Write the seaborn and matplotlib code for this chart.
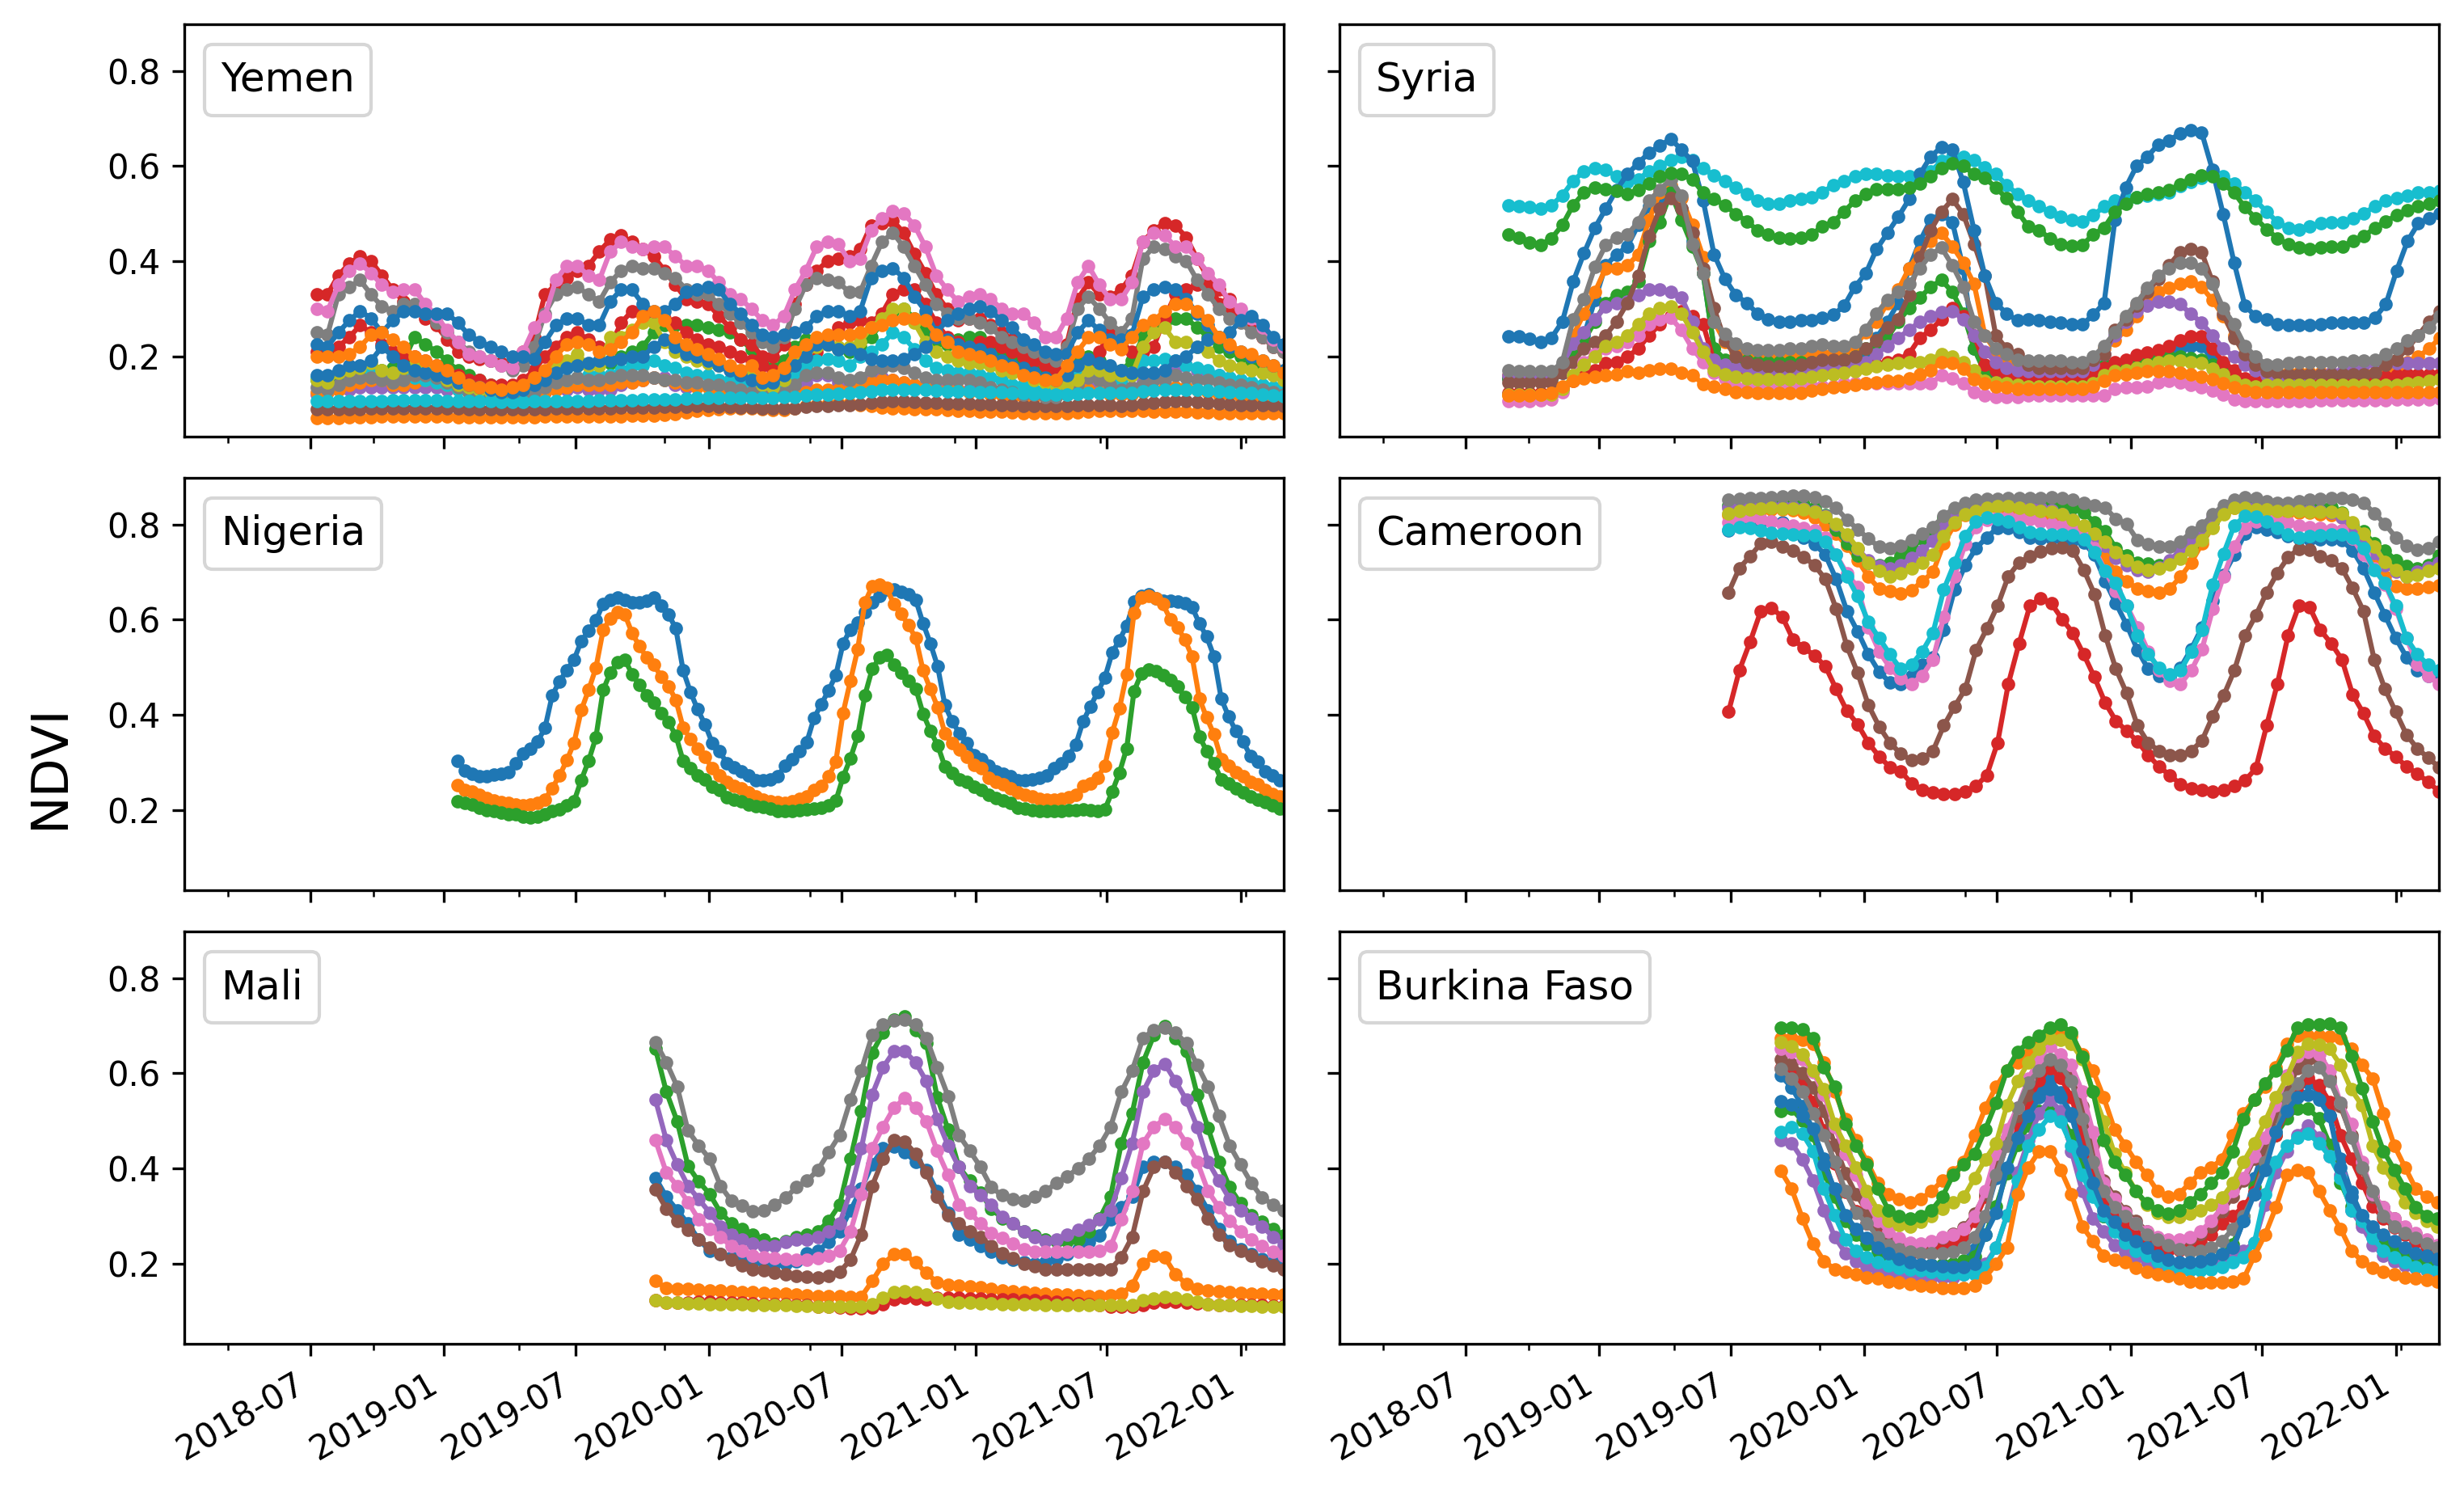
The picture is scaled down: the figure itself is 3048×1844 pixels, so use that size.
import numpy as np
import pandas as pd
import matplotlib
matplotlib.use("Agg")
import matplotlib.pyplot as plt
import matplotlib.dates as mdates
from matplotlib.lines import Line2D
from matplotlib.ticker import FixedLocator
import seaborn as sns

# NDVI values in thousandths
yemen_orange_low = [70,70,70,71,72,72,73,73,73,73,73,73,73,72,72,72,71,71,71,72,72,73,73,73,73,73,73,74,74,75,75,76,77,79,82,85,87,88,90,91,90,88,87,87,90,95,98,99,100,100,98,96,93,91,90,89,88,88,87,86,85,84,84,83,82,81,80,80,80,81,82,84,85,85,85,85,85,84,84,83,83,82,82,81,81,81,80,80,80,80]
yemen_purple = [120,125,130,130,135,135,135,135,135,135,135,135,130,130,125,120,120,120,115,120,120,125,130,130,135,130,130,130,140,145,150,155,155,140,135,140,140,130,130,125,125,120,120,125,130,145,160,160,145,140,145,155,155,150,145,140,140,140,135,130,130,130,125,125,120,120,115,120,125,130,135,140,130,125,120,130,150,155,160,170,180,170,165,160,150,145,140,135,130,125]
yemen_orange_mid = [125,125,130,140,145,150,150,140,140,145,150,145,140,130,125,120,115,115,115,120,120,125,130,135,140,140,140,140,145,145,150,155,150,145,140,135,135,130,125,120,120,115,115,115,120,125,130,130,130,130,135,145,150,150,145,140,135,130,130,130,125,125,120,120,115,115,115,115,115,120,125,130,125,120,120,120,125,130,135,135,135,130,125,120,120,115,115,110,110,110]
yemen_brown = [88,88,88,89,89,90,90,90,91,91,91,91,90,90,89,89,89,88,88,89,89,89,90,90,90,90,90,91,92,92,93,93,94,94,94,95,95,94,94,93,92,91,90,90,91,94,96,96,97,98,99,102,104,105,105,104,103,102,101,100,100,99,99,98,97,96,95,95,95,96,97,98,98,97,96,97,101,103,104,105,105,104,102,100,99,98,98,97,97,96]
yemen_green = [150,150,150,155,160,165,170,175,190,240,225,210,190,170,160,150,140,135,130,130,140,155,170,185,180,180,180,185,200,210,220,250,265,265,265,265,260,255,250,235,215,185,175,190,220,235,235,225,215,210,220,240,270,295,300,280,250,230,225,235,240,240,225,210,190,180,170,160,155,170,190,200,190,170,170,190,240,260,270,280,280,260,240,220,210,200,190,180,170,160]
yemen_red_low = [210,210,220,240,265,250,225,210,200,200,190,180,170,160,150,150,140,140,140,150,170,200,220,240,250,235,220,220,270,295,300,290,280,270,250,235,225,220,210,200,190,180,170,165,165,180,210,230,260,270,275,270,290,330,340,340,310,270,240,230,220,230,230,220,210,200,190,180,170,165,160,170,210,250,230,210,210,220,280,330,340,350,350,340,320,290,260,240,230,220]
yemen_red_high = [330,330,370,395,410,400,370,340,315,300,280,265,235,210,200,195,190,185,180,210,240,330,350,365,380,390,420,445,455,440,425,410,380,350,320,315,310,285,260,235,225,200,200,225,310,350,380,400,405,410,425,475,480,485,460,415,375,330,300,275,280,280,265,250,235,225,205,195,190,225,320,355,330,325,340,370,440,465,480,475,450,405,365,310,290,275,260,240,220,210]
yemen_gray_high = [250,245,330,345,360,330,305,295,310,310,290,270,250,230,210,200,190,180,170,180,220,290,330,340,345,330,315,355,380,390,385,385,375,365,340,330,330,310,290,270,250,230,220,240,300,350,365,360,355,335,335,390,440,460,430,390,350,310,290,280,280,270,260,240,230,220,210,200,190,220,300,325,300,270,250,280,405,430,425,410,400,360,330,300,280,270,250,240,220,210]
yemen_cyan_mid = [155,155,165,170,175,170,165,160,160,155,150,145,140,130,125,120,120,120,120,120,130,140,150,150,155,160,160,160,170,180,180,190,180,175,165,160,160,150,150,140,135,130,130,140,155,180,190,195,190,180,200,210,225,250,240,215,190,175,170,165,165,160,155,150,140,140,130,130,130,140,160,170,160,150,150,160,190,190,195,190,180,175,170,160,155,150,145,140,135,130]
yemen_gray_low = [135,130,140,150,155,155,150,145,150,160,160,155,145,135,125,120,115,115,115,120,125,135,145,150,155,150,150,155,160,160,160,155,150,150,145,145,140,140,135,130,125,120,120,125,140,160,165,165,155,150,155,170,175,180,175,165,155,150,150,150,150,145,135,130,125,120,120,115,115,120,140,155,150,140,130,135,140,150,150,160,155,150,150,145,140,140,135,130,125,120]
yemen_olive = [150,145,165,170,175,185,170,165,175,180,170,160,150,140,135,130,125,125,125,130,150,165,180,190,205,180,180,240,240,255,270,270,230,210,200,190,185,180,175,170,160,140,135,150,190,210,220,225,220,220,230,260,280,300,300,270,230,210,200,190,185,185,180,170,165,160,150,145,140,140,150,170,170,160,160,160,220,250,260,230,230,220,210,190,180,175,170,165,160,150]
yemen_pink = [300,295,350,380,395,375,350,335,340,340,310,285,255,230,205,200,190,180,175,210,260,285,360,390,390,370,360,420,440,430,425,430,430,410,390,390,380,355,330,320,300,275,265,285,340,380,430,440,435,400,405,465,490,505,500,475,430,370,340,315,325,330,320,300,290,290,270,240,240,280,355,390,350,320,320,355,440,460,455,430,430,405,375,350,315,300,280,260,235,220]
yemen_cyan_low = [105,105,105,105,106,106,106,107,107,107,107,107,106,106,105,105,105,104,104,104,105,105,106,106,106,106,107,107,108,108,109,110,110,110,111,112,112,112,112,112,112,112,113,114,115,118,119,120,121,122,124,127,129,130,130,130,129,128,127,126,126,125,125,124,123,122,121,120,120,120,121,122,122,122,122,123,126,128,129,130,130,129,128,126,125,123,122,120,118,116]
yemen_blue_low = [160,160,170,180,180,190,220,200,180,170,165,160,155,145,140,135,130,125,125,130,140,150,165,175,180,185,190,190,195,200,200,220,235,220,205,200,190,180,170,160,150,145,145,160,180,200,225,225,215,215,205,195,190,190,195,205,220,240,235,225,220,215,205,190,180,175,165,155,150,160,180,195,185,180,170,165,165,165,170,190,200,220,235,240,220,210,200,190,180,170]
yemen_blue_high = [225,220,250,275,295,280,250,275,295,295,290,290,290,270,245,230,220,210,200,200,195,230,265,280,280,265,265,315,340,340,310,295,295,310,335,340,345,340,310,290,265,245,240,245,250,260,285,295,295,285,295,365,380,385,365,325,295,250,275,290,300,305,295,275,260,235,225,210,205,205,250,275,255,235,235,245,325,340,345,340,320,290,265,240,250,275,285,265,240,225]
yemen_orange_top = [200,200,200,205,220,245,250,235,220,200,190,180,170,155,140,135,135,130,135,140,155,170,200,225,230,225,210,215,230,250,285,295,275,240,225,215,205,195,180,170,180,155,160,175,210,225,240,245,245,245,250,260,265,275,280,280,275,245,230,210,205,200,190,180,175,160,155,150,150,180,210,240,240,225,215,240,265,275,295,310,310,295,275,240,225,210,205,190,180,165]

syria_blue2 = [154,154,154,154,154,165,188,244,318,391,414,431,476,515,532,550,510,442,374,216,182,165,162,160,160,160,160,160,160,160,165,171,182,199,239,273,312,385,442,487,499,482,385,216,171,160,154,154,154,154,154,154,154,154,165,182,182,188,193,199,205,210,216,222,222,193,165,154,148,148,148,150,150,152,152,154,154,154,154,154,154,154,154,154,154,154,154]
syria_orange = [160,160,160,160,160,171,244,290,335,385,385,391,414,487,544,560,532,476,408,273,230,210,208,202,202,202,202,202,202,205,208,210,222,250,273,312,340,385,419,442,459,431,397,352,244,210,188,176,171,171,171,171,171,171,188,216,233,255,284,318,335,343,352,357,346,318,284,244,199,176,165,162,165,165,165,165,165,165,165,165,165,171,176,188,199,216,239]
syria_green2 = [154,154,154,154,154,182,199,233,273,312,329,335,357,442,482,544,487,431,374,216,193,190,190,188,188,188,188,188,188,190,190,193,199,216,222,239,273,301,323,346,360,335,290,216,165,143,137,150,154,154,154,154,154,154,160,182,182,188,193,199,199,199,199,196,193,182,165,154,148,148,148,148,148,148,148,148,148,148,148,148,148,150,150,150,150,154,154]
syria_red = [123,123,123,123,123,131,148,160,171,185,188,199,216,244,267,284,295,284,267,188,165,160,157,157,157,157,157,160,162,162,165,168,171,176,182,188,193,205,239,255,278,301,284,244,182,171,160,154,154,151,151,151,154,157,162,176,188,193,202,208,213,222,233,241,241,216,188,171,154,148,145,145,145,145,145,145,145,145,145,148,154,157,160,162,162,162,162]
syria_purple = [160,160,160,160,160,182,227,250,278,304,312,315,329,340,340,335,323,273,216,193,182,176,173,171,168,168,168,171,173,176,182,182,182,188,205,222,239,255,273,284,292,295,278,244,210,188,176,171,168,168,168,168,168,168,182,205,244,273,295,306,315,315,309,290,270,244,216,199,182,171,160,154,154,157,160,162,165,168,176,182,185,185,185,185,185,185,185]
syria_brown = [145,145,145,145,145,165,188,216,230,244,273,312,369,453,510,532,510,459,385,301,233,199,188,182,179,179,179,182,188,193,193,193,199,216,233,261,278,329,408,465,504,530,499,436,369,244,216,205,182,176,176,176,176,176,193,205,255,278,306,335,363,391,419,425,419,357,290,239,205,182,168,165,162,162,162,162,162,162,162,162,165,182,193,216,244,273,295]
syria_pink = [106,106,106,108,109,125,160,188,205,216,222,230,244,267,278,281,255,216,188,165,154,137,137,137,137,137,137,137,137,137,137,143,143,143,143,143,143,143,143,143,160,154,143,125,117,114,114,114,117,117,117,117,117,117,117,117,131,134,134,137,145,148,145,140,134,128,120,109,106,106,106,106,106,106,106,107,107,107,108,108,108,108,109,109,109,110,111]
syria_gray = [171,168,168,168,168,188,278,320,388,434,450,456,482,527,550,572,538,436,374,273,247,227,216,213,213,213,216,216,222,225,222,222,230,256,290,318,335,352,385,414,428,391,346,273,244,216,205,193,190,190,190,190,188,188,199,222,250,284,312,343,369,385,397,397,385,352,301,267,222,199,182,182,185,188,188,188,188,188,190,190,193,205,216,233,244,261,284]
syria_olive = [120,120,120,120,120,131,160,182,199,222,230,244,267,290,301,304,290,250,210,171,162,157,154,151,151,151,151,154,157,160,162,165,168,173,179,182,185,188,188,193,205,199,188,171,148,145,143,140,137,137,137,137,137,137,143,160,168,171,176,182,188,190,190,188,185,173,162,148,140,137,140,140,140,140,140,140,140,140,140,140,140,140,140,143,145,148,151]
syria_cyan = [518,515,513,510,518,538,569,589,595,592,578,566,572,589,600,612,620,612,595,580,569,555,541,527,520,520,527,530,535,544,560,569,578,583,583,580,578,578,578,589,610,620,620,612,597,583,560,541,527,515,504,493,486,484,496,515,527,532,535,538,541,544,558,566,575,583,578,563,544,527,504,482,470,467,473,479,482,482,490,501,515,527,532,538,544,544,547]
syria_blue = [241,241,236,230,239,273,357,417,470,510,550,583,606,628,643,657,634,610,527,414,363,329,312,290,278,273,273,275,275,281,287,306,346,374,425,459,493,530,583,620,640,634,566,465,369,312,290,275,278,275,273,270,267,267,287,312,487,555,600,620,645,654,668,676,671,592,498,397,306,284,278,267,266,266,266,267,270,270,270,270,281,309,380,442,479,490,501]
syria_orange_low = [117,117,117,119,123,137,148,154,157,160,162,168,165,171,174,174,165,160,142,137,131,125,125,123,123,123,123,123,128,131,134,137,140,143,145,148,148,154,162,171,188,185,174,151,143,137,134,131,131,131,131,131,131,131,137,148,160,162,165,168,168,168,165,162,157,151,143,134,128,125,125,125,125,125,125,125,125,125,125,125,125,125,125,125,125,125,125]
syria_green = [456,450,439,434,448,476,518,544,555,552,547,541,550,563,578,586,583,572,544,530,518,499,484,465,456,450,448,450,456,473,482,504,527,541,552,552,552,555,563,578,595,606,600,583,575,555,532,504,473,465,448,436,432,434,456,470,504,521,535,541,544,550,561,572,580,578,563,544,513,490,467,448,436,428,425,428,431,431,442,453,470,484,496,507,515,521,527]

nigeria_blue = [303,283,276,270,271,274,275,279,298,318,329,344,372,441,470,494,516,555,576,598,633,641,647,641,636,637,640,647,629,611,581,493,448,411,380,341,324,298,290,281,273,263,262,264,271,293,307,323,342,393,422,451,483,550,579,593,616,637,649,663,663,659,654,641,592,550,502,420,386,361,341,315,307,293,281,276,270,263,263,264,267,273,287,298,314,337,386,417,447,478,530,557,587,638,650,654,645,640,640,638,635,626,592,564,523,434,397,366,344,314,301,281,273,262,258]
nigeria_orange = [252,242,239,231,225,220,216,214,211,209,211,215,222,246,272,304,341,410,452,498,578,603,615,610,571,544,520,505,479,460,431,373,349,329,312,287,273,259,251,245,236,228,222,218,216,215,218,223,229,242,251,270,301,404,471,537,636,670,674,666,632,612,588,561,493,454,416,361,341,326,312,295,287,267,259,253,245,236,232,228,223,222,222,223,227,232,250,256,268,293,362,413,485,614,647,650,645,632,601,584,558,522,434,394,359,307,293,279,270,259,253,242,233,228,224]
nigeria_green = [218,214,212,205,199,198,194,191,191,185,184,185,190,197,201,210,218,263,303,352,452,489,511,515,485,462,441,425,403,384,356,303,287,273,264,248,242,227,222,218,211,207,206,202,198,197,197,199,201,202,205,210,219,269,308,355,441,496,520,526,505,488,471,455,402,366,336,291,278,264,259,248,242,231,225,219,214,205,202,199,198,197,197,198,199,199,201,199,198,201,238,278,329,449,486,495,492,483,473,459,438,416,354,324,298,264,256,245,237,228,222,216,210,202,199]

cameroon_blue = [787,801,807,807,807,804,787,773,759,736,685,618,575,527,490,468,465,482,505,521,578,663,714,750,773,793,793,784,773,770,770,769,767,762,736,680,634,589,536,496,482,480,499,538,584,640,694,736,781,795,790,784,776,771,769,769,769,767,745,708,657,609,561,521,493,482,476]
cameroon_orange = [820,825,828,830,832,832,830,825,815,800,780,755,725,690,665,660,655,662,680,700,760,800,820,830,835,835,832,830,828,822,815,805,790,775,755,730,700,680,665,660,657,665,690,720,760,795,825,835,832,830,828,826,825,825,825,822,820,815,790,750,720,690,670,665,665,668,672]
cameroon_green = [840,842,843,844,845,845,845,842,835,820,790,760,735,720,715,720,735,750,770,790,815,830,838,842,843,843,845,847,847,845,842,840,835,825,805,785,750,735,720,718,715,722,735,755,780,805,828,840,843,843,842,840,840,840,840,838,836,825,800,785,760,745,725,712,708,715,735]
cameroon_red = [406,493,553,618,624,606,558,541,524,502,454,408,380,341,312,290,281,256,242,236,233,234,239,250,273,341,465,550,629,645,634,601,572,527,479,425,387,366,344,315,291,273,254,245,241,239,242,250,262,287,377,465,567,629,626,578,550,516,442,403,355,329,312,291,276,259,239]
cameroon_purple = [835,838,838,838,838,838,836,834,828,818,800,778,748,725,712,708,715,730,745,765,800,820,832,838,840,840,838,838,836,835,830,822,810,795,775,755,730,715,705,700,710,725,745,765,790,815,830,838,838,838,836,833,832,830,830,828,825,815,790,765,740,715,700,690,700,710,720]
cameroon_brown = [657,708,733,760,763,754,745,732,714,685,623,544,488,420,375,341,318,304,308,324,377,417,454,536,581,629,691,720,733,743,750,752,745,705,654,567,496,445,377,341,324,315,315,324,346,397,440,493,567,609,657,698,731,749,746,733,724,708,666,618,516,454,406,358,329,310,290]
cameroon_pink = [804,812,815,812,807,801,797,792,787,773,736,697,668,584,533,499,476,465,482,516,606,691,759,795,810,815,816,815,812,807,801,797,793,779,750,702,660,629,584,533,493,471,465,493,538,623,691,753,793,807,812,810,804,797,795,793,790,787,770,736,708,674,623,561,505,482,465]
cameroon_gray = [852,853,855,856,858,859,860,860,858,849,835,810,790,770,753,750,756,767,781,795,818,835,846,852,854,854,855,855,855,856,858,855,852,846,841,835,812,801,767,759,753,753,764,784,798,821,841,852,858,855,849,846,846,849,852,854,855,855,852,846,824,801,773,756,747,750,764]
cameroon_olive = [824,828,831,833,835,834,833,832,827,816,801,779,750,719,702,691,697,708,719,736,776,804,821,829,835,838,838,835,832,829,827,821,810,798,781,764,742,725,711,705,708,716,728,745,767,793,821,835,835,832,831,829,829,828,827,827,827,824,804,781,753,722,705,691,694,702,708]
cameroon_cyan = [790,794,793,788,782,780,779,777,777,764,736,691,649,595,561,527,496,505,533,572,663,719,776,807,815,811,807,795,784,780,779,779,777,769,742,702,677,629,567,527,499,485,493,533,578,674,739,798,818,816,807,793,779,773,775,777,779,779,773,750,705,677,629,561,527,505,493]

mali_blue = [380,340,312,284,250,227,219,213,208,205,202,199,199,205,222,227,245,267,312,357,408,442,445,434,414,397,352,307,261,250,236,225,213,208,202,199,202,210,219,230,245,259,292,318,340,403,414,414,403,386,352,312,273,247,230,219,210,202,194]
mali_orange = [163,148,147,146,145,143,143,141,140,139,138,137,136,135,133,132,131,131,130,130,163,199,219,219,202,180,160,155,153,151,150,147,144,142,140,138,136,135,134,133,131,131,133,136,154,199,216,213,177,157,147,144,142,140,138,137,136,135,135]
mali_green = [651,561,499,405,372,346,307,284,273,261,250,242,247,256,261,267,290,324,420,521,643,685,713,719,691,663,550,482,403,374,349,315,295,284,267,259,250,247,247,250,267,295,340,453,516,623,680,699,674,646,555,485,414,360,326,301,287,273,259]
mali_red = [122,117,118,118,119,119,118,118,117,116,115,114,114,113,112,110,109,107,106,106,108,115,125,128,127,125,128,128,128,127,126,125,124,124,123,122,121,119,117,116,115,113,110,110,109,112,118,120,120,118,116,114,113,113,112,112,112,111,111]
mali_purple = [544,459,408,363,335,307,278,261,250,242,236,236,245,250,250,256,267,284,352,442,555,612,646,646,623,583,504,448,403,363,343,324,298,284,267,256,247,250,261,270,281,292,312,380,453,561,606,620,583,544,487,414,374,335,312,295,278,256,239]
mali_brown = [355,315,290,270,250,233,219,208,196,188,185,180,177,174,172,171,174,182,208,261,363,420,459,456,431,391,340,301,284,267,256,236,222,211,199,194,188,188,188,188,188,188,188,213,256,352,403,414,391,363,335,295,261,239,227,216,205,196,188]
mali_pink = [459,391,363,329,292,273,256,236,227,216,213,211,209,208,208,211,216,227,267,346,442,487,527,547,527,499,437,386,324,307,284,264,253,242,230,225,225,225,225,225,225,227,236,292,352,453,487,504,487,453,414,352,318,290,267,250,236,225,216]
mali_gray = [665,623,572,479,448,420,363,332,321,309,312,324,338,360,374,397,434,470,544,606,680,702,711,713,702,674,612,552,470,437,403,360,343,335,332,340,352,369,383,400,420,448,487,561,606,674,691,696,685,663,617,572,510,448,408,369,338,324,312]
mali_olive = [123,118,117,116,116,115,115,114,114,113,112,112,112,111,111,110,110,109,109,110,114,128,140,142,140,135,127,120,118,117,116,116,115,115,114,114,113,113,112,112,112,112,112,112,113,122,126,129,128,125,120,115,113,112,111,111,110,110,110]

burkina_blue2 = [595,570,530,480,420,350,300,270,250,230,215,205,200,198,198,198,200,205,230,300,380,450,500,530,565,585,560,510,430,350,300,270,250,230,215,205,200,198,198,200,205,215,230,290,380,450,520,555,575,580,560,510,420,350,300,270,250,230,215,205,200,195]
burkina_orange_high = [674,674,671,662,623,561,504,459,414,369,346,335,329,335,352,374,391,414,470,527,572,606,623,640,657,674,688,679,640,606,549,482,448,414,386,352,340,346,369,391,402,419,470,516,544,572,612,662,679,679,678,677,674,651,617,589,516,448,402,357,340,329]
burkina_green2 = [521,525,500,470,390,340,290,260,240,225,215,205,200,196,196,197,200,206,215,260,320,390,450,490,520,530,510,470,400,350,300,275,255,240,225,212,205,200,200,203,210,220,240,300,360,420,470,505,525,525,505,450,370,320,285,260,245,230,218,210,205,198]
burkina_red = [610,600,580,540,480,410,350,310,285,260,240,230,222,222,228,235,245,255,290,340,410,450,490,540,585,610,590,550,470,390,330,300,280,265,250,235,228,228,235,245,260,285,300,320,350,420,470,520,560,590,575,540,470,420,370,320,295,275,260,245,235,225]
burkina_purple = [459,453,419,374,312,256,222,205,193,182,179,174,171,171,171,171,171,177,182,199,233,301,391,459,516,544,521,436,352,295,267,239,225,213,205,196,188,185,185,188,193,199,210,227,244,323,391,436,470,490,465,425,386,312,278,239,216,205,196,191,185,182]
burkina_brown = [630,620,600,570,520,450,390,345,310,285,262,248,240,240,246,254,262,275,305,345,400,465,510,555,610,628,615,590,530,450,375,340,310,290,268,252,246,248,252,262,278,310,340,375,420,440,510,560,610,630,625,590,530,470,400,340,318,295,275,262,248,235]
burkina_pink = [651,645,630,603,555,487,431,386,329,290,267,253,244,241,247,256,261,273,300,352,431,482,527,589,630,657,640,617,561,476,369,335,306,284,267,256,250,250,256,267,290,318,352,380,425,465,532,595,637,645,640,606,538,493,414,346,318,295,278,264,250,239]
burkina_gray = [609,589,561,516,470,414,352,306,284,256,239,230,225,222,221,222,225,233,256,300,386,448,527,580,606,630,617,583,504,414,352,318,300,284,261,250,239,230,225,227,233,247,273,300,346,414,476,549,578,606,612,583,538,465,402,352,300,278,264,253,242,233]
burkina_olive = [665,657,640,606,566,493,448,402,352,312,290,281,278,287,300,315,329,340,380,419,453,532,583,623,651,674,671,662,630,561,499,431,391,352,323,306,298,298,304,312,323,338,369,414,453,499,549,589,645,662,660,651,617,566,532,448,402,369,329,306,290,278]
burkina_cyan = [476,487,473,436,357,301,250,227,213,202,196,191,188,185,182,179,178,177,177,193,233,301,374,448,482,510,499,448,386,340,301,267,244,227,216,205,196,191,185,185,188,193,202,213,244,346,414,448,465,473,453,425,380,312,290,253,227,213,202,193,188,185]
burkina_blue = [541,535,510,484,408,357,301,273,253,233,222,210,202,198,196,195,193,193,199,261,306,402,465,510,549,566,549,516,436,369,312,287,261,247,233,216,208,202,202,205,210,219,233,290,346,397,476,521,549,555,544,510,402,340,301,278,261,247,233,222,216,210]
burkina_orange_low = [394,357,295,241,205,188,182,177,171,168,162,160,157,154,151,149,148,149,154,171,199,233,346,402,436,436,397,346,278,247,216,208,202,191,182,178,174,168,162,160,160,161,162,168,216,261,318,386,397,391,352,312,273,227,205,191,182,177,171,168,165,162]
burkina_green = [696,695,693,674,612,572,493,448,408,357,312,300,295,300,312,340,386,408,431,482,538,606,645,665,679,696,702,685,634,561,459,414,386,352,326,312,304,312,329,346,369,391,436,504,544,578,606,648,696,702,703,704,696,637,569,499,436,397,357,318,300,295]

panel_names = ["Yemen", "Syria", "Nigeria", "Cameroon", "Mali", "Burkina Faso"]
panel_starts = ["2018-07-10", "2018-08-29", "2019-01-20", "2019-06-28", "2019-10-19", "2019-09-08"]
panel_steps = [14.95, 14.9, 10.0, 14.8, 14.9, 14.8]
minor_tick_dates = ["2018-03-10", "2018-09-26", "2019-04-14", "2019-10-31", "2020-05-18", "2020-12-04", "2021-06-22", "2022-01-08"]
panel_series = [
    [yemen_orange_low, yemen_purple, yemen_orange_mid, yemen_brown, yemen_green, yemen_red_low, yemen_red_high,
     yemen_gray_high, yemen_cyan_mid, yemen_gray_low, yemen_olive, yemen_pink, yemen_cyan_low, yemen_blue_low,
     yemen_blue_high, yemen_orange_top],
    [syria_blue2, syria_orange, syria_green2, syria_red, syria_purple, syria_brown, syria_pink, syria_gray,
     syria_olive, syria_cyan, syria_blue, syria_orange_low, syria_green],
    [nigeria_blue, nigeria_orange, nigeria_green],
    [cameroon_blue, cameroon_orange, cameroon_green, cameroon_red, cameroon_purple, cameroon_brown, cameroon_pink,
     cameroon_gray, cameroon_olive, cameroon_cyan],
    [mali_blue, mali_orange, mali_green, mali_red, mali_purple, mali_brown, mali_pink, mali_gray, mali_olive],
    [burkina_blue2, burkina_orange_high, burkina_green2, burkina_red, burkina_purple, burkina_brown, burkina_pink,
     burkina_gray, burkina_olive, burkina_cyan, burkina_blue, burkina_orange_low, burkina_green],
]
yemen_colors = [1, 4, 1, 5, 2, 3, 3, 7, 9, 7, 8, 6, 9, 0, 0, 1]

W, H = 3048, 1844
fig = plt.figure(figsize=(W / 300, H / 300), dpi=300)
palette = sns.color_palette("tab10")
lefts = [228, 1657]
tops = [30, 591, 1152]
ax_w, ax_h = 1360, 510
x_lim = (pd.Timestamp("2018-01-09"), pd.Timestamp("2022-03-01"))
minor_locs = mdates.date2num(pd.to_datetime(minor_tick_dates))

for k, name in enumerate(panel_names):
    row, col = k // 2, k % 2
    ax = fig.add_axes([lefts[col] / W, 1 - (tops[row] + ax_h) / H, ax_w / W, ax_h / H])
    start = pd.Timestamp(panel_starts[k])
    for j, values in enumerate(panel_series[k]):
        dates = start + pd.to_timedelta(np.arange(len(values)) * panel_steps[k], unit="D")
        color = palette[yemen_colors[j] if k == 0 else j % 10]
        sns.lineplot(x=dates, y=np.array(values) / 1000, ax=ax, color=color, estimator=None, sort=False,
                     marker=".", markersize=6, markeredgewidth=1, markeredgecolor=color, linewidth=1.5)
    ax.set_xlim(*x_lim)
    ax.set_ylim(0.031, 0.898)
    ax.set_yticks([0.2, 0.4, 0.6, 0.8])
    ax.set(xlabel="", ylabel="")
    ax.xaxis.set_major_locator(mdates.MonthLocator(bymonth=[1, 7]))
    ax.xaxis.set_minor_locator(FixedLocator(minor_locs))
    ax.xaxis.set_major_formatter(mdates.DateFormatter("%Y-%m"))
    if row < 2:
        ax.tick_params(axis="x", labelbottom=False)
    else:
        plt.setp(ax.get_xticklabels(), rotation=30, ha="right")
    if col == 1:
        ax.tick_params(axis="y", labelleft=False)
    ax.legend(handles=[Line2D([], [], linewidth=0)], labels=[name], loc="upper left", fontsize=12,
              handlelength=0, handletextpad=0)

fig.text(62 / W, 1 - 948 / H, "NDVI", rotation=90, fontsize=15, ha="center", va="center")
fig.savefig("out.png", dpi=300)
